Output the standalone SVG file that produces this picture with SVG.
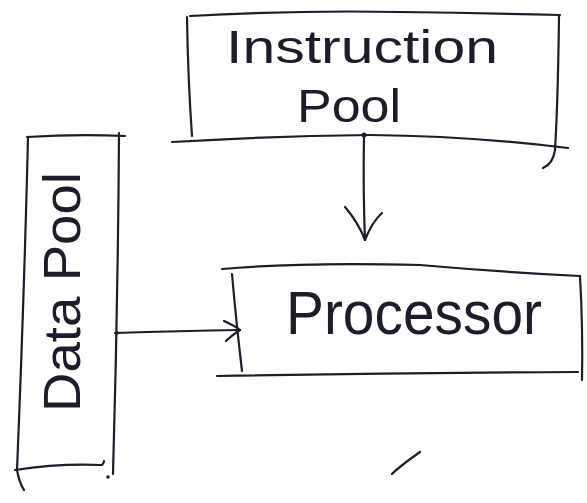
<svg xmlns="http://www.w3.org/2000/svg" width="587" height="503" viewBox="0 0 587 503">
<style>
.ln{fill:none;stroke:#1c1c2a;stroke-width:2.2;stroke-linecap:round;stroke-linejoin:round}
.tx{font-family:"Liberation Sans",Arial,sans-serif;fill:#1c1c2a;font-weight:normal}
</style>
<rect width="587" height="503" fill="#ffffff"/>
<g id="instruction-pool">
<path class="ln" d="M190,16 Q300,10 400,12 Q480,13 560,15"/>
<path class="ln" d="M187,17 Q188,80 192,136"/>
<path class="ln" d="M559,16 Q558,100 555,150 Q553,164 543,168"/>
<path class="ln" d="M172,142 Q270,136 370,135 Q470,136 568,148"/>
<text class="tx" x="362" y="63" font-size="46" text-anchor="middle" textLength="272" lengthAdjust="spacingAndGlyphs">Instruction</text>
<text class="tx" x="349" y="122" font-size="46" text-anchor="middle" textLength="104" lengthAdjust="spacingAndGlyphs">Pool</text>
</g>
<g id="processor">
<path class="ln" d="M222,269 Q300,262 420,265 Q500,272 580,276"/>
<path class="ln" d="M232,274 Q236,320 242,371"/>
<path class="ln" d="M580,276 Q583,330 582,380"/>
<path class="ln" d="M217,376 Q400,373 578,372"/>
<text class="tx" x="414" y="334" font-size="62" text-anchor="middle" textLength="256" lengthAdjust="spacingAndGlyphs">Processor</text>
</g>
<g id="data-pool">
<path class="ln" d="M27,137 Q75,134 125,136"/>
<path class="ln" d="M28,138 Q24,300 17,470 Q19,482 24,490"/>
<path class="ln" d="M119,133 Q118,300 113,474"/>
<path class="ln" d="M15,470 Q60,463 102,465 Q104,463 104,461"/>
<text class="tx" transform="translate(80,292) rotate(-90)" font-size="52" text-anchor="middle" textLength="240" lengthAdjust="spacingAndGlyphs">Data Pool</text>
</g>
<g id="connectors">
<circle cx="364" cy="135" r="2.5" fill="#1c1c2a"/>
<path class="ln" d="M364,135 Q363,190 365,240"/>
<path class="ln" d="M345,207 Q358,222 365,240 Q372,222 382,213"/>
<path class="ln" d="M115,333 Q180,331 240,330"/>
<path class="ln" d="M224,321 Q235,326 240,330 Q232,335 226,341"/>
<circle cx="117" cy="333" r="1.8" fill="#1c1c2a"/>
<circle cx="108" cy="477" r="1.8" fill="#1c1c2a"/>
</g>
<path class="ln" d="M392,474 Q400,466 420,452" stroke-width="3"/>
</svg>
